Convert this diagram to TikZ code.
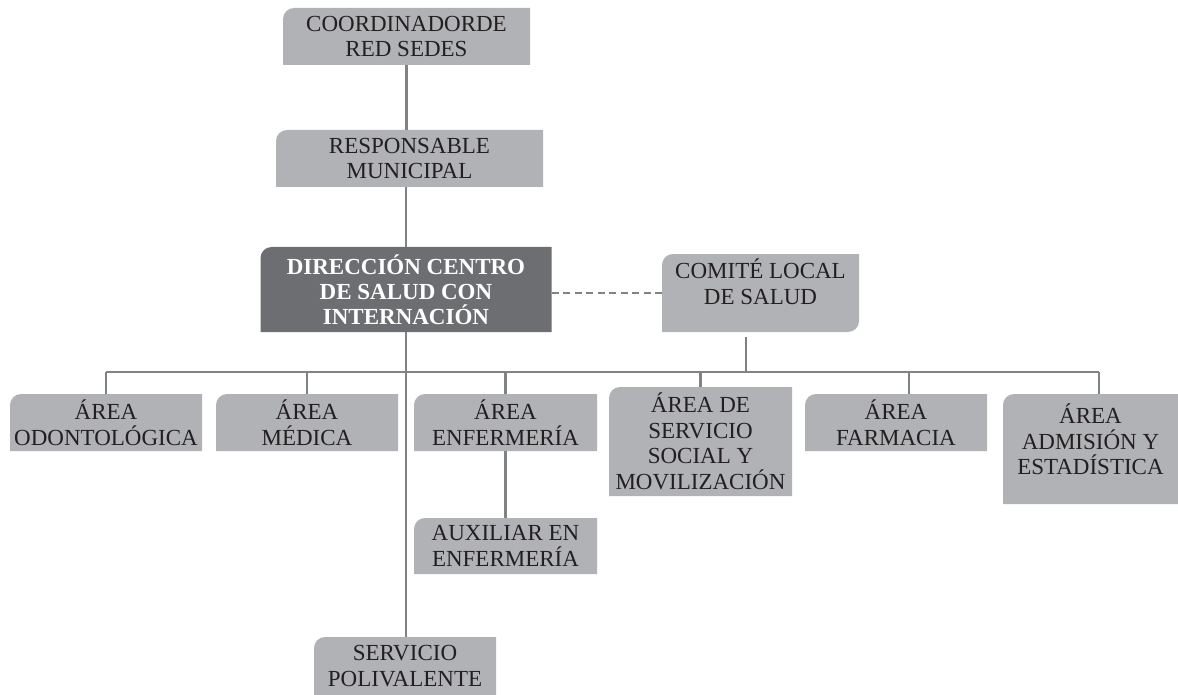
\documentclass[tikz,border=0pt]{standalone}
\usepackage{fontspec}
\setmainfont{Liberation Serif}
\definecolor{boxgray}{RGB}{177,178,181}
\definecolor{dirgray}{RGB}{109,110,113}
\definecolor{linegray}{RGB}{128,130,133}
\definecolor{txt}{RGB}{35,31,32}

\begin{document}
\begin{tikzpicture}[x=1pt,y=-1pt,
orgbox/.style={fill=white,inner sep=0pt,align=center,text=txt,font=\fontsize{23}{25.5}\selectfont,
path picture={\fill[#1] (path picture bounding box.south west) -- ([yshift=-11pt]path picture bounding box.north west)
.. controls ([yshift=-5pt]path picture bounding box.north west) and ([xshift=5pt]path picture bounding box.north west) .. ([xshift=11pt]path picture bounding box.north west)
-- (path picture bounding box.north east) -- (path picture bounding box.south east) -- cycle;}},
orgbox/.default=boxgray,
twocorner/.style={fill=white,inner sep=0pt,align=center,text=txt,font=\fontsize{23}{25.5}\selectfont,
path picture={\fill[boxgray] (path picture bounding box.south west) -- ([yshift=-11pt]path picture bounding box.north west)
.. controls ([yshift=-5pt]path picture bounding box.north west) and ([xshift=5pt]path picture bounding box.north west) .. ([xshift=11pt]path picture bounding box.north west)
-- (path picture bounding box.north east) -- ([yshift=11pt]path picture bounding box.south east)
.. controls ([yshift=5pt]path picture bounding box.south east) and ([xshift=-5pt]path picture bounding box.south east) .. ([xshift=-11pt]path picture bounding box.south east) -- cycle;}},
conn/.style={draw=linegray,line width=2.5pt}]
\useasboundingbox (0,0) rectangle (1178,695);
\node[orgbox,minimum width=247,minimum height=57] (coord) at (406.5,36.5) {COORDINADORDE\\RED SEDES};
\node[orgbox,minimum width=267,minimum height=57] (resp) at (409.5,158.5) {RESPONSABLE\\MUNICIPAL};
\node[orgbox=dirgray,minimum width=291,minimum height=85,text=white,font=\fontsize{23}{25}\selectfont\bfseries] (dir) at (406,289.5) {DIRECCIÓN CENTRO\\DE SALUD CON\\INTERNACIÓN};
\node[twocorner,minimum width=197,minimum height=78,text depth=23pt] (comite) at (760.5,293) {COMITÉ LOCAL\\DE SALUD};
\node[orgbox,minimum width=192,minimum height=57] (odo) at (106,422.5) {ÁREA\\ODONTOLÓGICA};
\node[orgbox,minimum width=182,minimum height=57] (med) at (307,422.5) {ÁREA\\MÉDICA};
\node[orgbox,minimum width=183,minimum height=57] (enf) at (505.5,422.5) {ÁREA\\ENFERMERÍA};
\node[orgbox,minimum width=183,minimum height=109] (soc) at (700.5,441.5) {ÁREA DE\\SERVICIO\\SOCIAL Y\\MOVILIZACIÓN};
\node[orgbox,minimum width=182,minimum height=57] (farm) at (896,422.5) {ÁREA\\FARMACIA};
\node[orgbox,minimum width=175,minimum height=110,text depth=19pt] (adm) at (1090.5,449) {ÁREA\\ADMISIÓN Y\\ESTADÍSTICA};
\node[orgbox,minimum width=183,minimum height=56] (aux) at (505.5,546) {AUXILIAR EN\\ENFERMERÍA};
\node[orgbox,minimum width=182,minimum height=58] (poli) at (405,666) {SERVICIO\\POLIVALENTE};
\coordinate (busL) at (106,372);
\coordinate (busR) at (1099,372);
\draw[conn] (coord.south) -- (coord.south |- resp.north);
\draw[conn] (resp.south -| dir.north) -- (dir.north);
\draw[conn] (dir.south) -- (dir.south |- poli.north);
\draw[conn,dashed,dash pattern=on 7pt off 4.5pt,line width=2pt] (comite.west -| dir.east) -- (comite.west);
\draw[conn] ([shift={(-14.5pt,-5pt)}]comite.south) -- ([xshift=-14.5pt]comite.south |- busL);
\draw[conn] (busL) -- (busR);
\foreach \n in {odo,med,enf,soc}
\draw[conn] (\n.north) -- (\n.north |- busL);
\draw[conn] ([xshift=13pt]farm.north) -- ([xshift=13pt]farm.north |- busL);
\draw[conn] ([xshift=8.5pt]adm.north) -- ([xshift=8.5pt]adm.north |- busL);
\draw[conn] (enf.south) -- (aux.north);
\end{tikzpicture}
\end{document}
